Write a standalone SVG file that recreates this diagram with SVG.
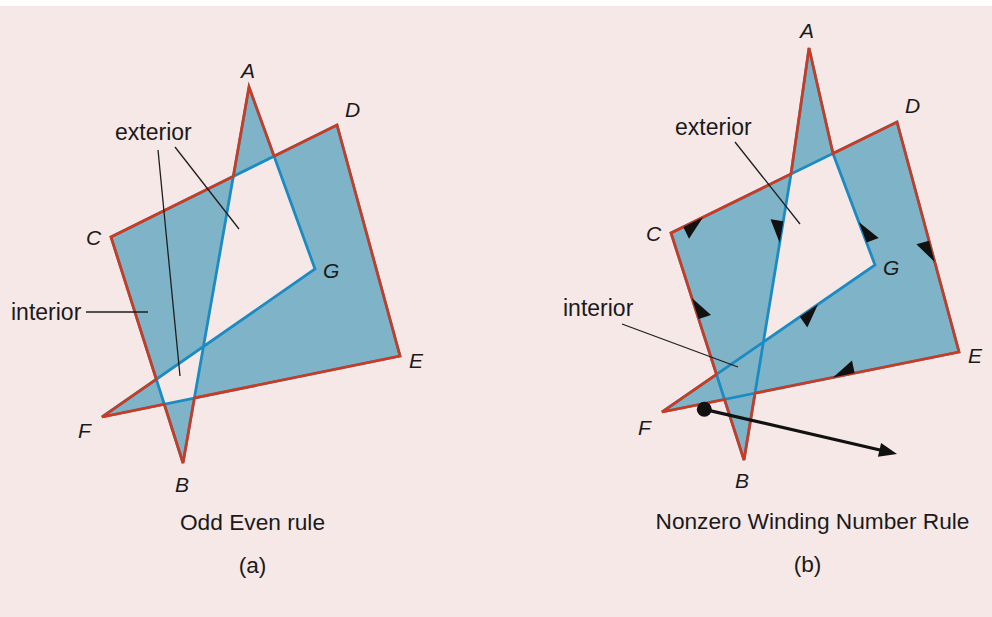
<svg xmlns="http://www.w3.org/2000/svg" width="992" height="617" viewBox="0 0 992 617">
<defs>
<style>
.bg{fill:#f6e8e7}
.fillp{fill:#7fb4c8}
.blue{fill:none;stroke:#1b8bc4;stroke-width:2.8;stroke-linejoin:miter}
.red{fill:none;stroke:#d2381c;stroke-width:2.6;stroke-linejoin:miter}
.lead{stroke:#1e1e1e;stroke-width:1.3;fill:none}
.lbl{font-family:"Liberation Sans",Arial,sans-serif;font-size:23px;fill:#1a1a1a}
.v{font-family:"Liberation Sans",Arial,sans-serif;font-size:21px;font-style:italic;fill:#1a1a1a}
.title{font-family:"Liberation Sans",Arial,sans-serif;font-size:22.7px;fill:#1a1a1a;text-anchor:middle}
.barb{fill:#111}
</style>
</defs>
<rect class="bg" x="0" y="0" width="992" height="617"/>
<rect x="0" y="0" width="992" height="6" fill="#ffffff"/>

<!-- (a) Odd Even rule -->
<g id="polygonA">
<path class="fillp" fill-rule="evenodd" d="M249,87 L183,463 L111,237 L337,125 L400,356 L102,417 L315,269 Z"/>
<path class="blue" d="M249,87 L183,463 L111,237 L337,125 L400,356 L102,417 L315,269 Z"/>
<path class="red" d="M249,87 L233.3,176.4 L111,237 L156.3,379.3 L102,417 L164.3,404.3 L183,463 L194.4,397.9 L400,356 L337,125 L274.1,156.2 Z"/>
</g>
<g id="verticesA">
<text class="v" x="241" y="78">A</text>
<text class="v" x="345" y="117">D</text>
<text class="v" x="86" y="245">C</text>
<text class="v" x="323" y="278">G</text>
<text class="v" x="409" y="368">E</text>
<text class="v" x="78" y="438">F</text>
<text class="v" x="175" y="492">B</text>
</g>
<g id="labelsA">
<text class="lbl" x="115" y="140">exterior</text>
<text class="lbl" x="11" y="320">interior</text>
</g>
<g id="titleA">
<text class="title" x="252.5" y="530">Odd Even rule</text>
<text class="title" x="252.5" y="573">(a)</text>
</g>

<!-- (b) Nonzero winding number rule -->
<g id="polygonB">
<path class="fillp" fill-rule="nonzero" d="M809,48 L791,174 L744,460 L671,233 L897,122 L959,352 L662,412 L875,265 L833,153.5 Z"/>
<path class="blue" d="M809,48 L791,174 L744,460 L671,233 L897,122 L959,352 L662,412 L875,265 L833,153.5 Z"/>
<path class="red" d="M809,48 L791,174 L671,233 L716.5,374.4 L662,412 L724.5,399.4 L744,460 L755,393.2 L959,352 L897,122 L833,153.5 Z"/>
</g>
<g id="directionArrows">
<polygon class="barb" points="703,217.3 683.3,227 689,238.7"/>
<polygon class="barb" points="779.7,243 783.3,221.3 770.5,219.2"/>
<polygon class="barb" points="858.8,222 866.6,242.6 878.7,238"/>
<polygon class="barb" points="934.7,262 929,240.8 916.4,244.2"/>
<polygon class="barb" points="833,377.5 854.6,373.1 852,360.4"/>
<polygon class="barb" points="818,304.3 799.9,316.8 807.3,327.5"/>
<polygon class="barb" points="691.9,298 698.6,318.9 711,314.9"/>
</g>
<g id="verticesB">
<text class="v" x="800" y="38">A</text>
<text class="v" x="905" y="113">D</text>
<text class="v" x="646" y="241">C</text>
<text class="v" x="883" y="275">G</text>
<text class="v" x="968" y="363">E</text>
<text class="v" x="638" y="435">F</text>
<text class="v" x="735" y="488">B</text>
</g>
<g id="labelsB">
<text class="lbl" x="675" y="135">exterior</text>
<text class="lbl" x="563" y="316">interior</text>
</g>
<g id="rayB">
<circle cx="704.3" cy="409.3" r="7.5" fill="#111"/>
<line x1="704.3" y1="409.3" x2="880" y2="450" stroke="#111" stroke-width="3.3"/>
<polygon points="897,454 881.1,443.1 877.9,456.7" fill="#111"/>
</g>
<g id="titleB">
<text class="title" x="812.5" y="529">Nonzero Winding Number Rule</text>
<text class="title" x="807.5" y="572">(b)</text>
</g>

<!-- leader connectors -->
<g id="connectors">
<line class="lead" x1="158" y1="150" x2="180" y2="376"/>
<line class="lead" x1="175" y1="147" x2="239" y2="229"/>
<line class="lead" x1="86" y1="312" x2="148" y2="312"/>
<line class="lead" x1="735" y1="142" x2="800" y2="224"/>
<line class="lead" x1="622" y1="324" x2="738" y2="367"/>
</g>
</svg>
